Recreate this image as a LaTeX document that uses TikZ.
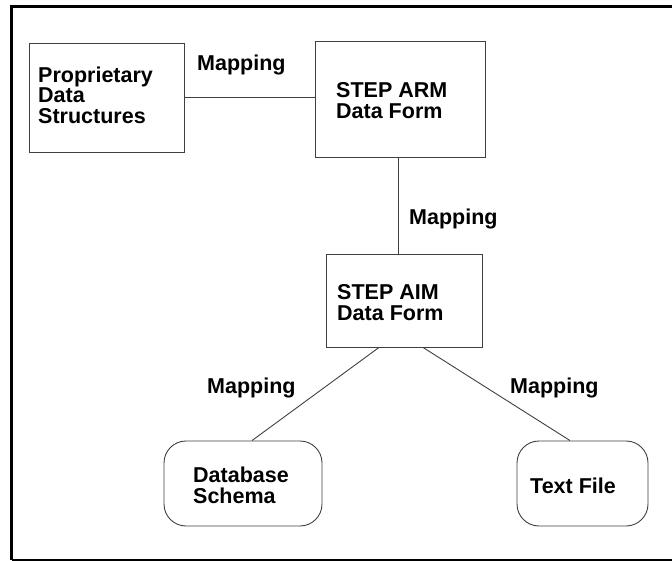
\documentclass[tikz,border=0pt]{standalone}
\usepackage{fontspec}
\setmainfont{Liberation Sans}
\usetikzlibrary{calc}
\begin{document}
\begin{tikzpicture}[x=1pt,y=-1pt,
  boxline/.style={draw=black!75,line width=0.9pt},
  sqbox/.style={boxline,rectangle,inner sep=0pt},
  rndbox/.style={boxline,rectangle,rounded corners=22pt,inner sep=0pt},
  conn/.style={draw=black!75,line width=0.9pt},
  txt/.style={inner sep=0pt,anchor=base west,align=left,font=\fontsize{21.5}{20.5}\selectfont\bfseries},
  frame/.style={line width=3pt,draw=black}]
\useasboundingbox (0,0) rectangle (672,561);
% frame
\draw[frame] (672,6.5) -- (11.5,6.5) -- (11.5,560);
\draw[line width=1.3pt] (11.5,560) -- (672,560);
% boxes
\node[sqbox,minimum width=155pt,minimum height=109pt] (prop) at (106.5,97.5) {};
\node[sqbox,minimum width=170pt,minimum height=116pt] (arm) at (400,99) {};
\node[sqbox,minimum width=156pt,minimum height=93pt] (aim) at (404,300.5) {};
\node[rndbox,minimum width=158pt,minimum height=85pt] (db) at (243,483.5) {};
\node[rndbox,minimum width=131pt,minimum height=85pt] (tf) at (582.5,483.5) {};
% texts (anchor = baseline of last line)
\node[txt] (tprop) at (38,123.3) {Proprietary\\Data\\Structures};
\node[txt] (tarm) at (336,118.3) {STEP ARM\\Data Form};
\node[txt] (taim) at (337,320.3) {STEP AIM\\Data Form};
\node[txt] (tdb) at (193,503) {Database\\Schema};
\node[txt] (ttf) at (530,493) {Text File};
\node[txt] (m1) at (197,70.7) {Mapping};
\node[txt] (m2) at (409,225) {Mapping};
\node[txt] (m3) at (207,393.3) {Mapping};
\node[txt] (m4) at (510,393.3) {Mapping};
% connector anchor points
\coordinate (armS) at ($(arm.south)+(-2,0)$);
\coordinate (aimN) at (armS |- aim.north);
\coordinate (aimSL) at ($(aim.south)+(-25,0)$);
\coordinate (aimSR) at ($(aim.south)+(19,0)$);
\coordinate (dbN) at ($(db.north)+(9,0)$);
\coordinate (tfN) at ($(tf.north)+(-12.5,0)$);
% connectors
\draw[conn] (prop.east) -- (prop.east -| arm.west);
\draw[conn] (armS) -- (aimN);
\draw[conn] (aimSL) -- (dbN);
\draw[conn] (aimSR) -- (tfN);
\end{tikzpicture}
\end{document}
